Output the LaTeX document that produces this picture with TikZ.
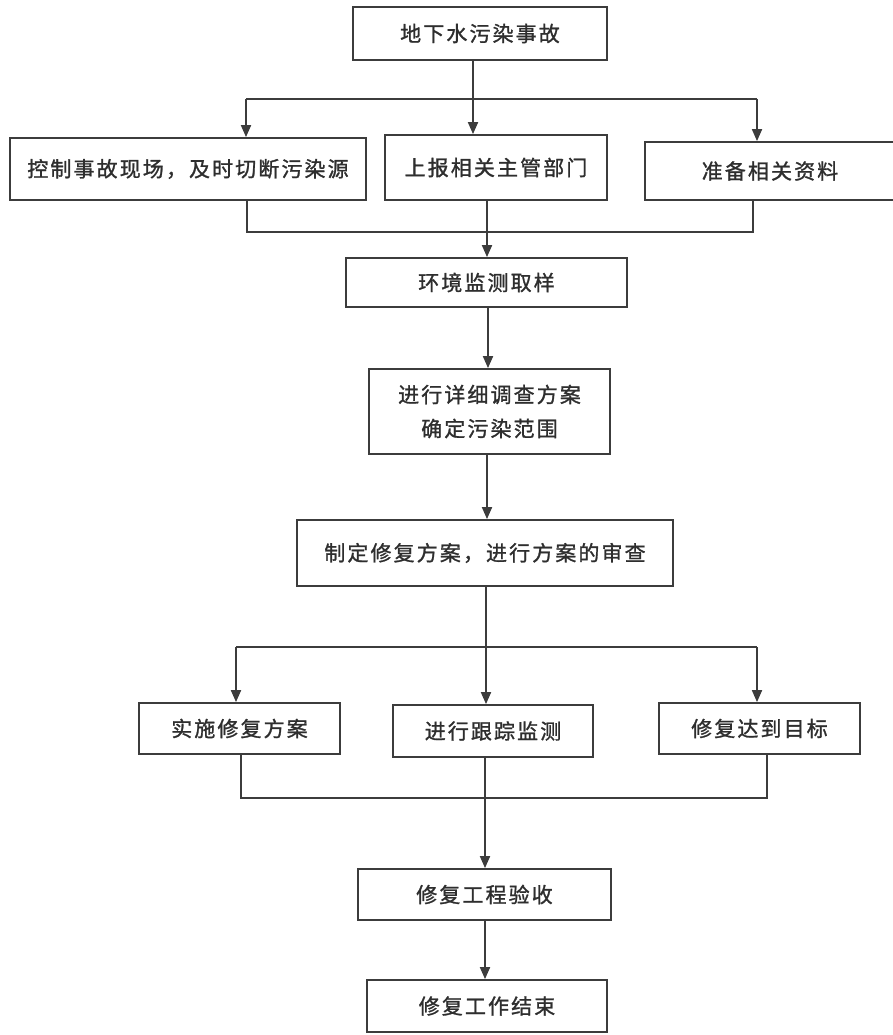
\documentclass[tikz,border=0pt]{standalone}
\usepackage{fontspec}
\newfontfamily\cjk[LetterSpace=10,FakeBold=1.2]{Noto Sans CJK SC}
\usetikzlibrary{arrows.meta}
\definecolor{ln}{HTML}{3C3C3C}
\definecolor{tx}{HTML}{2E2E2E}
\begin{document}
\begin{tikzpicture}[x=1pt,y=-1pt,
  box/.style={draw=ln,line width=1.8pt,fill=white,inner sep=0pt,
    font=\cjk\fontsize{21}{34}\selectfont,text=tx,align=center},
  ln/.style={draw=ln,line width=1.8pt},
  arr/.style={ln,-{Triangle[length=12pt,width=10pt]}}]
\useasboundingbox[fill=white] (0,0) rectangle (893,1035);
% nodes
\node[box,minimum width=254pt,minimum height=53pt] (top) at (480,33.5) {地下水污染事故};
\node[box,minimum width=356pt,minimum height=62pt] (n1) at (188,169) {控制事故现场，及时切断污染源};
\node[box,minimum width=222pt,minimum height=65pt] (n2) at (496,167.5) {上报相关主管部门};
\node[box,minimum width=250pt,minimum height=58pt] (n3) at (770,171) {准备相关资料};
\node[box,minimum width=281pt,minimum height=49pt] (env) at (486.5,282.5) {环境监测取样};
\node[box,minimum width=241pt,minimum height=85pt] (inv) at (489.5,411.5) {进行详细调查方案\\确定污染范围};
\node[box,minimum width=376pt,minimum height=66pt] (plan) at (485,553) {制定修复方案，进行方案的审查};
\node[box,minimum width=201pt,minimum height=51pt] (r1) at (239.5,728.5) {实施修复方案};
\node[box,minimum width=200pt,minimum height=52pt] (r2) at (493,731) {进行跟踪监测};
\node[box,minimum width=201pt,minimum height=51pt] (r3) at (759.5,728.5) {修复达到目标};
\node[box,minimum width=253pt,minimum height=51pt] (acc) at (484.5,894.5) {修复工程验收};
\node[box,minimum width=240pt,minimum height=52pt] (fin) at (487,1006) {修复工作结束};
% junction coordinates
\coordinate (s1) at (473,99);
\coordinate (s1L) at (246,99);
\coordinate (s1R) at (757,99);
\coordinate (m1L) at (247,232);
\coordinate (m1R) at (753,232);
\coordinate (m1C) at (487,232);
\coordinate (s2) at (486,647);
\coordinate (s2L) at (236,647);
\coordinate (s2R) at (757,647);
\coordinate (m2L) at (241,798);
\coordinate (m2R) at (767,798);
\coordinate (m2C) at (485,798);
% first split
\draw[ln] (top.south -| s1) -- (s1);
\draw[ln] (s1L) -- (s1R);
\draw[arr] (s1L) -- (s1L |- n1.north);
\draw[arr] (s1) -- (s1 |- n2.north);
\draw[arr] (s1R) -- (s1R |- n3.north);
% first merge
\draw[ln] (n1.south -| m1L) -- (m1L) -- (m1R) -- (n3.south -| m1R);
\draw[arr] (n2.south -| m1C) -- (env.north -| m1C);
% main chain
\draw[arr] (env.south -| 488,0) -- (inv.north -| 488,0);
\draw[arr] (inv.south -| 487,0) -- (plan.north -| 487,0);
% second split
\draw[ln] (plan.south -| s2) -- (s2);
\draw[ln] (s2L) -- (s2R);
\draw[arr] (s2L) -- (s2L |- r1.north);
\draw[arr] (s2) -- (s2 |- r2.north);
\draw[arr] (s2R) -- (s2R |- r3.north);
% second merge
\draw[ln] (r1.south -| m2L) -- (m2L) -- (m2R) -- (r3.south -| m2R);
\draw[arr] (r2.south -| m2C) -- (acc.north -| m2C);
\draw[arr] (acc.south -| m2C) -- (fin.north -| m2C);
\end{tikzpicture}
\end{document}
